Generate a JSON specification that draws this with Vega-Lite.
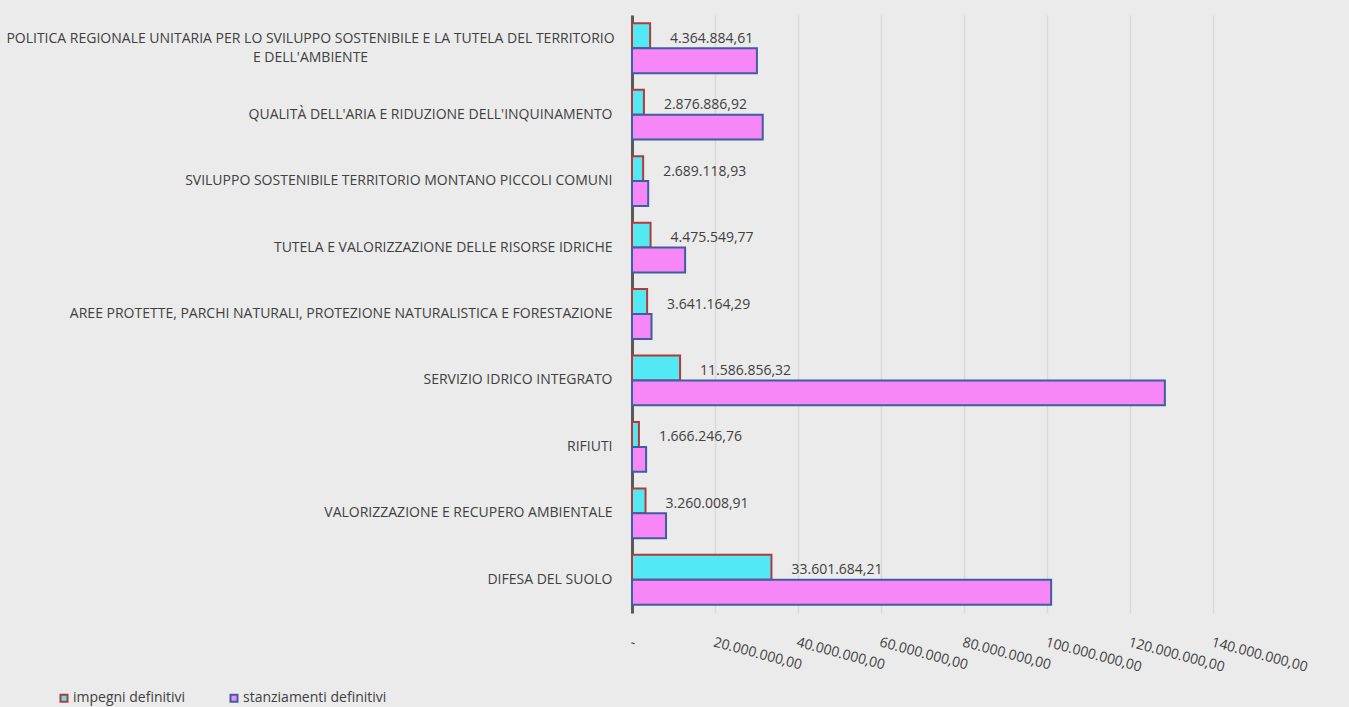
{
  "$schema": "https://vega.github.io/schema/vega-lite/v6.json",
  "autosize": "none",
  "width": 581,
  "height": 598,
  "padding": {"left": 632, "top": 15, "right": 136, "bottom": 94},
  "background": "#ebebeb",
  "config": {
    "locale": {"number": {"decimal": ",", "thousands": ".", "grouping": [3], "currency": ["€", ""]}},
    "view": {"stroke": null},
    "font": "Open Sans"
  },
  "data": {
    "values": [
      {"missione": "POLITICA REGIONALE UNITARIA PER LO SVILUPPO SOSTENIBILE E LA TUTELA DEL TERRITORIO E DELL'AMBIENTE", "serie": "impegni definitivi", "valore": 4364884.61},
      {"missione": "POLITICA REGIONALE UNITARIA PER LO SVILUPPO SOSTENIBILE E LA TUTELA DEL TERRITORIO E DELL'AMBIENTE", "serie": "stanziamenti definitivi", "valore": 30100000},
      {"missione": "QUALITÀ DELL'ARIA E RIDUZIONE DELL'INQUINAMENTO", "serie": "impegni definitivi", "valore": 2876886.92},
      {"missione": "QUALITÀ DELL'ARIA E RIDUZIONE DELL'INQUINAMENTO", "serie": "stanziamenti definitivi", "valore": 31500000},
      {"missione": "SVILUPPO SOSTENIBILE TERRITORIO MONTANO PICCOLI COMUNI", "serie": "impegni definitivi", "valore": 2689118.93},
      {"missione": "SVILUPPO SOSTENIBILE TERRITORIO MONTANO PICCOLI COMUNI", "serie": "stanziamenti definitivi", "valore": 3900000},
      {"missione": "TUTELA E VALORIZZAZIONE DELLE RISORSE IDRICHE", "serie": "impegni definitivi", "valore": 4475549.77},
      {"missione": "TUTELA E VALORIZZAZIONE DELLE RISORSE IDRICHE", "serie": "stanziamenti definitivi", "valore": 12800000},
      {"missione": "AREE PROTETTE, PARCHI NATURALI, PROTEZIONE NATURALISTICA E FORESTAZIONE", "serie": "impegni definitivi", "valore": 3641164.29},
      {"missione": "AREE PROTETTE, PARCHI NATURALI, PROTEZIONE NATURALISTICA E FORESTAZIONE", "serie": "stanziamenti definitivi", "valore": 4700000},
      {"missione": "SERVIZIO IDRICO INTEGRATO", "serie": "impegni definitivi", "valore": 11586856.32},
      {"missione": "SERVIZIO IDRICO INTEGRATO", "serie": "stanziamenti definitivi", "valore": 128400000},
      {"missione": "RIFIUTI", "serie": "impegni definitivi", "valore": 1666246.76},
      {"missione": "RIFIUTI", "serie": "stanziamenti definitivi", "valore": 3400000},
      {"missione": "VALORIZZAZIONE E RECUPERO AMBIENTALE", "serie": "impegni definitivi", "valore": 3260008.91},
      {"missione": "VALORIZZAZIONE E RECUPERO AMBIENTALE", "serie": "stanziamenti definitivi", "valore": 8200000},
      {"missione": "DIFESA DEL SUOLO", "serie": "impegni definitivi", "valore": 33601684.21},
      {"missione": "DIFESA DEL SUOLO", "serie": "stanziamenti definitivi", "valore": 101000000}
    ]
  },
  "encoding": {
    "y": {
      "field": "missione",
      "type": "nominal",
      "sort": null,
      "scale": {"paddingInner": 0.25, "paddingOuter": 0.125},
      "axis": {
        "title": null,
        "ticks": false,
        "labelFont": "Open Sans",
        "labelFontSize": 14,
        "labelColor": "#404040",
        "labelAlign": {"condition": {"test": "indexof(datum.value, 'POLITICA') === 0", "value": "center"}, "value": "right"},
        "labelPadding": {"condition": {"test": "indexof(datum.value, 'POLITICA') === 0", "value": 322}, "value": 20},
        "labelOffset": {"condition": {"test": "indexof(datum.value, 'POLITICA') === 0", "value": -9.5}, "value": 0},
        "labelLimit": 700,
        "labelLineHeight": 19,
        "domainColor": "#595959",
        "domainWidth": 3,
        "labelExpr": "indexof(datum.value, 'POLITICA') === 0 ? [\"POLITICA REGIONALE UNITARIA PER LO SVILUPPO SOSTENIBILE E LA TUTELA DEL TERRITORIO\", \"E DELL'AMBIENTE\"] : datum.value"
      }
    },
    "yOffset": {
      "field": "serie",
      "type": "nominal",
      "scale": {"domain": ["impegni definitivi", "stanziamenti definitivi"], "paddingInner": 0}
    },
    "x": {
      "field": "valore",
      "type": "quantitative",
      "scale": {"domain": [0, 140000000], "nice": false},
      "axis": {
        "title": null,
        "values": [0, 20000000, 40000000, 60000000, 80000000, 100000000, 120000000, 140000000],
        "format": ",.2f",
        "labelExpr": "datum.value === 0 ? '-' : datum.label",
        "labelOverlap": false,
        "labelAngle": 15,
        "labelAlign": "left",
        "labelBaseline": "top",
        "labelPadding": 22,
        "labelFont": "Open Sans",
        "labelFontSize": 14,
        "labelColor": "#404040",
        "ticks": false,
        "domain": false,
        "grid": true,
        "gridColor": "#d9d9d9",
        "gridWidth": 1.5
      }
    }
  },
  "layer": [
    {
      "mark": {"type": "bar", "strokeWidth": 2},
      "encoding": {
        "color": {
          "field": "serie",
          "type": "nominal",
          "scale": {"domain": ["impegni definitivi", "stanziamenti definitivi"], "range": ["#52e8f4", "#f787f7"]},
          "legend": {
            "title": null,
            "orient": "none",
            "legendX": -575,
            "legendY": 676,
            "direction": "horizontal",
            "columns": 2,
            "columnPadding": 40,
            "symbolType": "square",
            "symbolSize": 49,
            "symbolStrokeWidth": 2,
            "labelFont": "Open Sans",
            "labelFontSize": 14,
            "labelColor": "#404040",
            "labelOffset": 2
          }
        },
        "stroke": {
          "field": "serie",
          "type": "nominal",
          "scale": {"domain": ["impegni definitivi", "stanziamenti definitivi"], "range": ["#b23a3a", "#3d5f9e"]},
          "legend": {
            "title": null,
            "orient": "none",
            "legendX": -575,
            "legendY": 676,
            "direction": "horizontal",
            "columns": 2,
            "columnPadding": 40,
            "symbolType": "square",
            "symbolSize": 49,
            "symbolStrokeWidth": 2,
            "labelFont": "Open Sans",
            "labelFontSize": 14,
            "labelColor": "#404040",
            "labelOffset": 2
          }
        }
      }
    },
    {
      "transform": [{"filter": "datum.serie == 'impegni definitivi'"}],
      "mark": {"type": "text", "align": "left", "baseline": "middle", "dx": 20, "dy": 3, "font": "Open Sans", "fontSize": 14, "color": "#404040"},
      "encoding": {
        "text": {"field": "valore", "type": "quantitative", "format": ",.2f"}
      }
    }
  ]
}
